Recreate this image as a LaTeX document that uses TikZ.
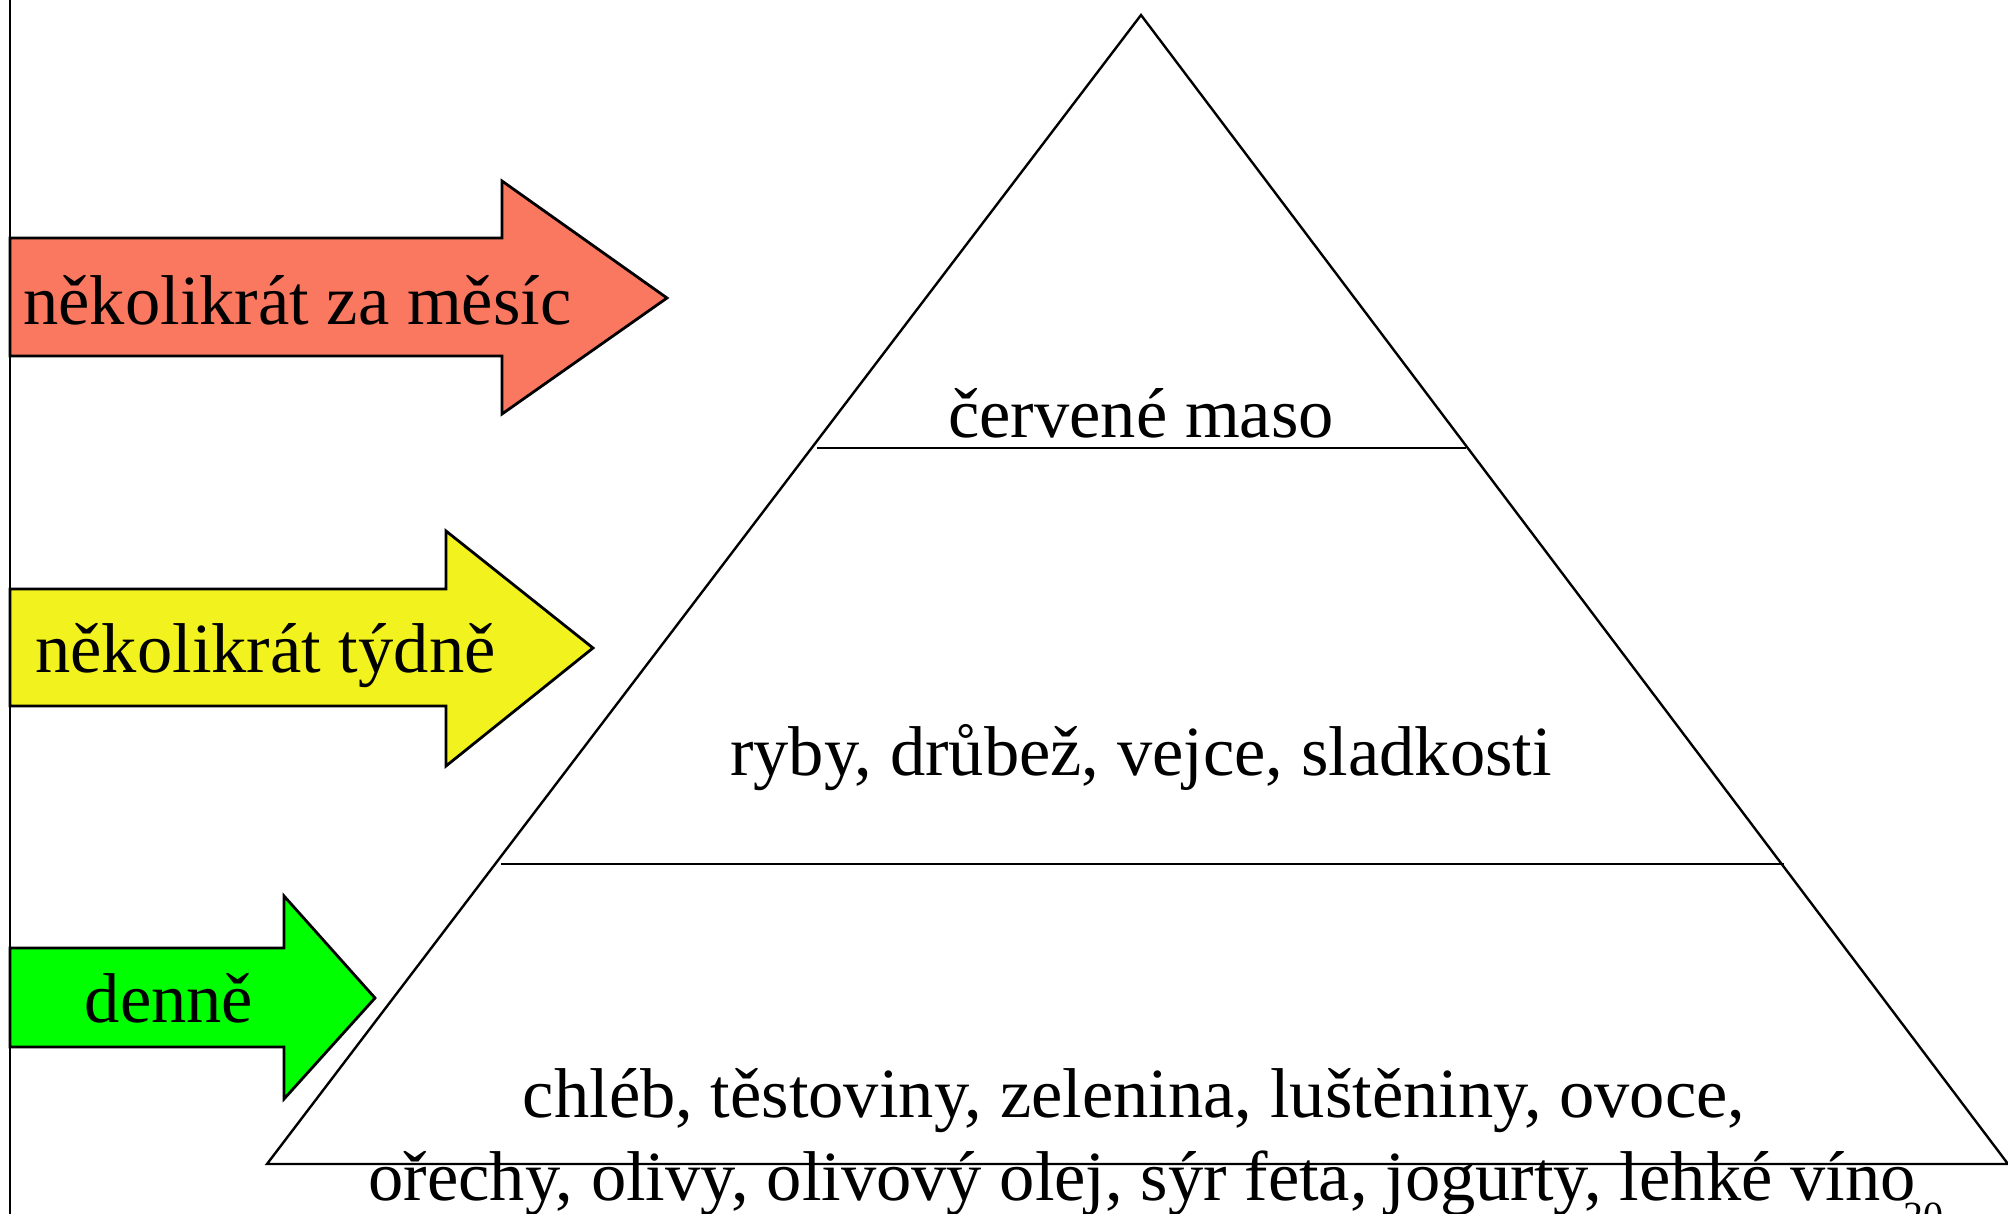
\documentclass[tikz,border=0pt]{standalone}
\usepackage{fontspec}
\setmainfont{Liberation Serif}
\definecolor{redarrow}{RGB}{250,120,96}
\definecolor{yellowarrow}{RGB}{242,242,30}
\definecolor{greenarrow}{RGB}{0,255,0}
\begin{document}
\begin{tikzpicture}[x=0.5pt,y=-0.5pt,
  arrowshape/.style={draw=black, line width=1.4pt, line join=miter},
  pyr/.style={draw=black, line width=1.2pt},
  lbl/.style={font=\fontsize{35.25}{42}\selectfont, inner sep=0pt},
  pagenum/.style={font=\fontsize{20}{24}\selectfont, inner sep=0pt, anchor=base west}]
\useasboundingbox (0,0) rectangle (2008,1214);
\fill[white] (0,0) rectangle (2008,1214);
% left vertical rule
\coordinate (vt) at (10,0);
\coordinate (vb) at (10,1214);
\draw[line width=1.2pt] (vt) -- (vb);
% arrows
\filldraw[arrowshape, fill=redarrow] (10,238) -- (502,238) -- (502,181) -- (667,298) -- (502,414) -- (502,356) -- (10,356) -- cycle;
\filldraw[arrowshape, fill=yellowarrow] (10,589) -- (446,589) -- (446,531) -- (593,648) -- (446,766) -- (446,706) -- (10,706) -- cycle;
\filldraw[arrowshape, fill=greenarrow] (10,948) -- (284,948) -- (284,896) -- (375,998) -- (284,1099) -- (284,1047) -- (10,1047) -- cycle;
\node[lbl, anchor=base west] (t1) at (23,325) {několikrát za měsíc};
\node[lbl, anchor=base west] (t2) at (35,672) {několikrát týdně};
\node[lbl, anchor=base] (t3) at (169,1022) {denně};
% pyramid
\coordinate (apex) at (1141,15);
\coordinate (bl) at (267,1164);
\coordinate (br) at (2008,1164);
\draw[pyr] (apex) -- (br) -- (bl) -- cycle;
\coordinate (l1a) at (817,448);
\coordinate (l1b) at (1466,448);
\coordinate (l2a) at (501,864);
\coordinate (l2b) at (1784,864);
\draw[pyr] (l1a) -- (l1b);
\draw[pyr] (l2a) -- (l2b);
\node[lbl, anchor=base] (p1) at (1141,437) {červené maso};
\node[lbl, anchor=base] (p2) at (1141,775) {ryby, drůbež, vejce, sladkosti};
\node[lbl, anchor=base] (p3) at (1134,1117) {chléb, těstoviny, zelenina, luštěniny, ovoce,};
\node[lbl, anchor=base] (p4) at (1142,1200) {ořechy, olivy, olivový olej, sýr feta, jogurty, lehké víno};
\node[pagenum] (pn) at (1903,1229) {20};
\end{tikzpicture}
\end{document}
